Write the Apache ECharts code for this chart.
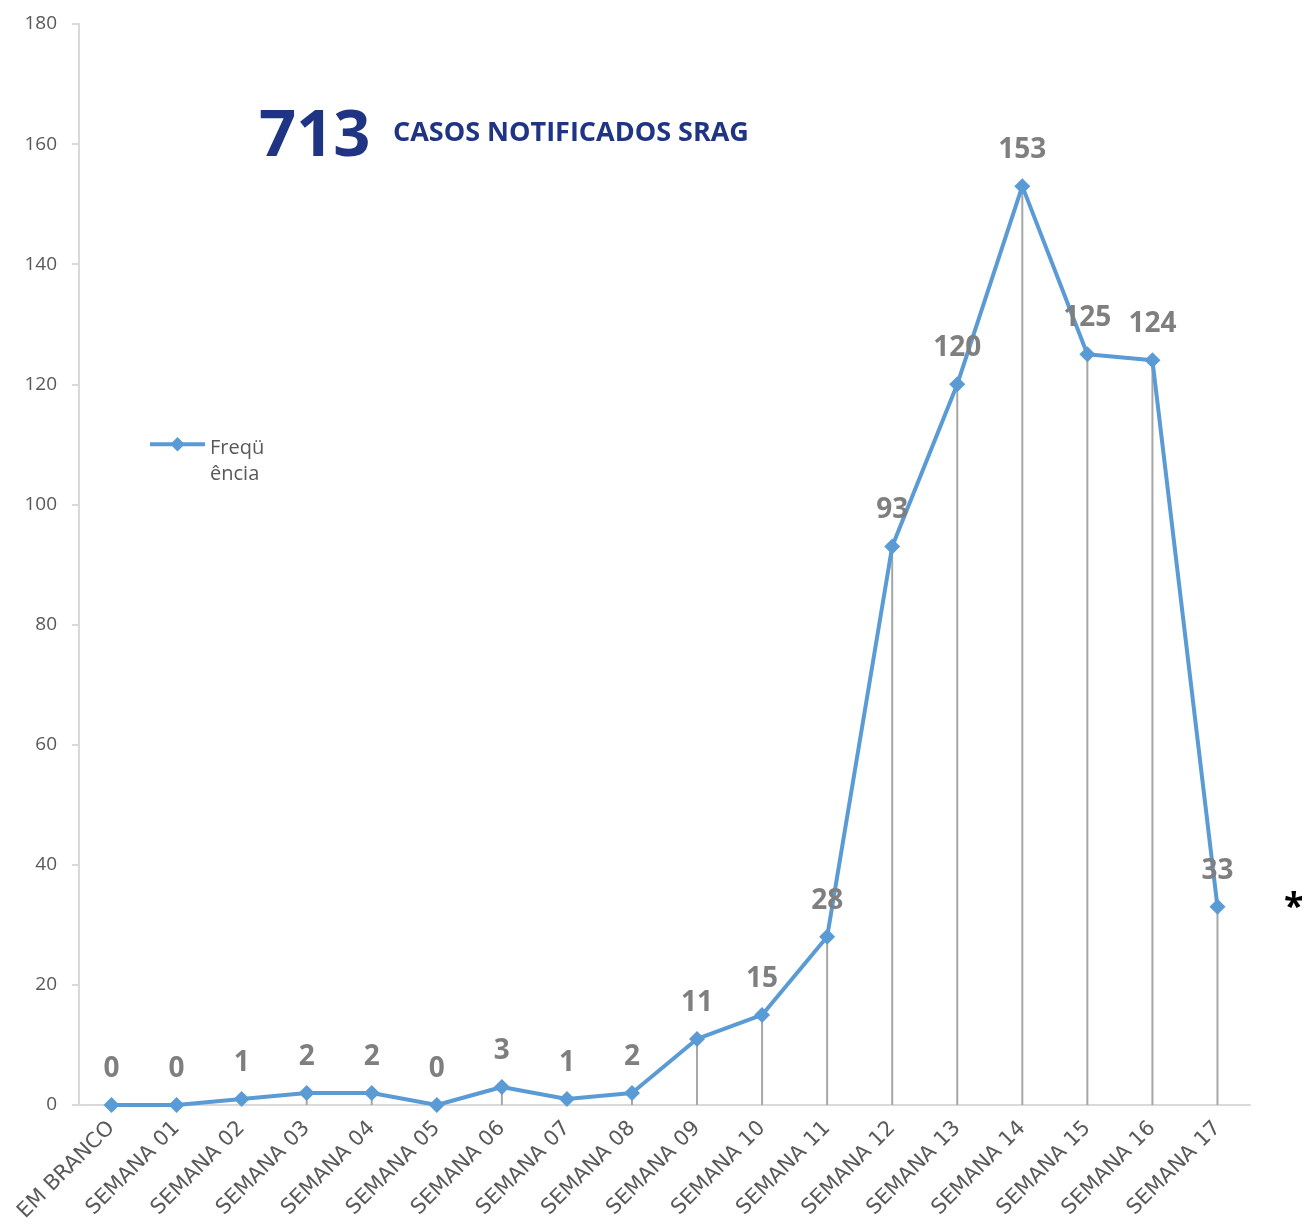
<!DOCTYPE html>
<html><head><meta charset="utf-8">
<script src="https://cdn.jsdelivr.net/npm/echarts@6/dist/echarts.min.js"></script>
<style>html,body{margin:0;padding:0;background:#fff}#c{width:1302px;height:1229px}</style>
</head><body><div id="c"></div>
<script>
const categories = ['EM BRANCO','SEMANA 01','SEMANA 02','SEMANA 03','SEMANA 04','SEMANA 05','SEMANA 06','SEMANA 07','SEMANA 08','SEMANA 09','SEMANA 10','SEMANA 11','SEMANA 12','SEMANA 13','SEMANA 14','SEMANA 15','SEMANA 16','SEMANA 17'];
const frequencia = [0,0,1,2,2,0,3,1,2,11,15,28,93,120,153,125,124,33];
const seriesName = 'Freqüência';
const yTicks = {min:0, max:180, interval:20};
const totalText = '713';
const titleText = 'CASOS NOTIFICADOS SRAG';

const chart = echarts.init(document.getElementById('c'));
const font = '"Open Sans","Liberation Sans",sans-serif';
chart.setOption({
  animation:false,
  grid:{left:79,right:52,top:24,bottom:124,containLabel:false},
  legend:{
    data:[seriesName], left:148, top:437, padding:0, orient:'vertical',
    itemWidth:55, itemHeight:18, itemGap:4,
    lineStyle:{width:4},
    formatter:()=> '{a|Freqü}\n{b|ência}',
    textStyle:{fontFamily:font,fontSize:20,color:'#595959',
      rich:{
        a:{fontFamily:font,fontSize:20,color:'#595959',lineHeight:56,verticalAlign:'bottom'},
        b:{fontFamily:font,fontSize:20,color:'#595959',lineHeight:28,padding:[5,0,0,0]}
      }
    }
  },
  xAxis:{
    type:'category', data:categories, boundaryGap:true,
    axisLine:{lineStyle:{color:'#d9d9d9',width:2}},
    axisTick:{show:false},
    axisLabel:{rotate:45,interval:0,fontFamily:'DejaVu Sans',fontSize:21,color:'#595959',margin:20}
  },
  yAxis:{
    type:'value', min:yTicks.min, max:yTicks.max, interval:yTicks.interval,
    axisLine:{show:true,lineStyle:{color:'#d9d9d9',width:2}},
    axisTick:{show:true,length:7,lineStyle:{color:'#d9d9d9',width:2}},
    splitLine:{show:false},
    axisLabel:{fontFamily:font,fontSize:19,color:'#595959',margin:22}
  },
  series:[
    {
      type:'bar', name:'drop', data:frequencia, barWidth:2, silent:true,
      itemStyle:{color:'#a6a6a6'}, z:1
    },
    {
      type:'line', name:seriesName, data:frequencia,
      symbol:'diamond', symbolSize:16,
      lineStyle:{color:'#5b9bd5',width:4},
      itemStyle:{color:'#5b9bd5'},
      z:3,
      label:{show:true,position:'top',distance:14,fontFamily:font,fontWeight:'bold',fontSize:28,color:'#7f7f7f'}
    }
  ],
  graphic:[
    {type:'text',left:259,top:105,style:{text:totalText,fontFamily:font,fontWeight:'bold',fontSize:65,fill:'#1f3584'}},
    {type:'text',left:393,top:120,style:{text:titleText,fontFamily:font,fontWeight:'bold',fontSize:27,fill:'#1f3584'}},
    {type:'text',left:1284,top:890,style:{text:'*',fontFamily:font,fontWeight:'bold',fontSize:36,fill:'#000'}}
  ]
});
</script></body></html>
